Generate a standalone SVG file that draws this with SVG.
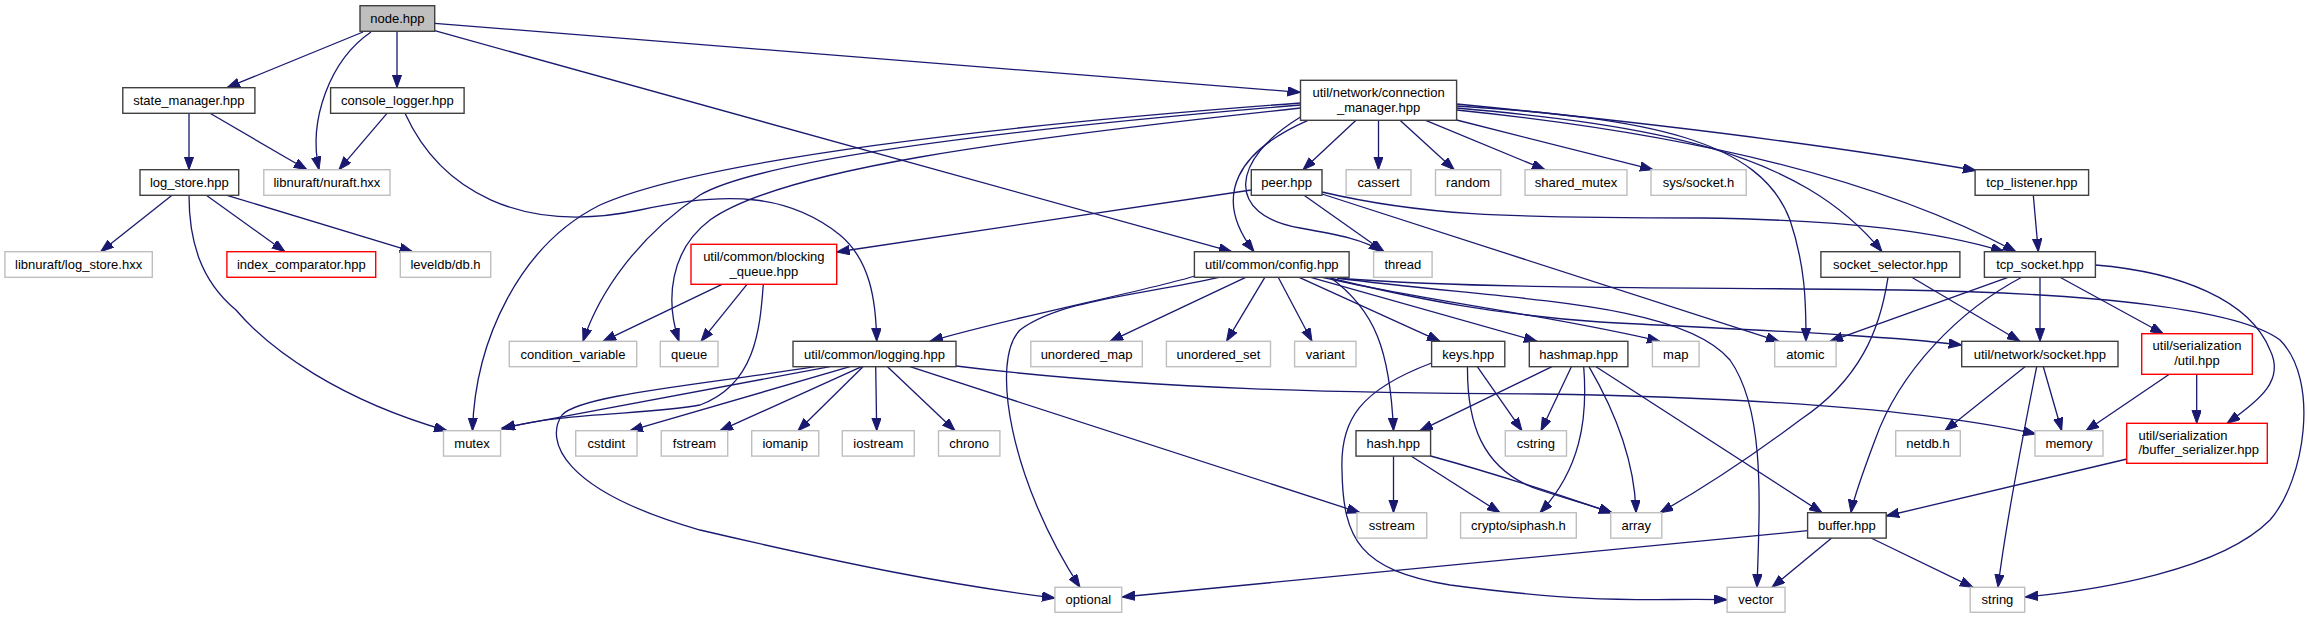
<svg xmlns="http://www.w3.org/2000/svg" width="2307" height="619" viewBox="0 0 2307 619">
<style>
.n rect{fill:#fff;stroke:#404040;stroke-width:1.4}
.g rect{fill:#fff;stroke:#bfbfbf;stroke-width:1.4}
.r rect{fill:#fff;stroke:#ff0000;stroke-width:1.4}
text{font-family:"Liberation Sans",Arial,sans-serif;font-size:13px;fill:#000;text-anchor:middle}
.e path{fill:none;stroke:#191970;stroke-width:1.3;marker-end:url(#a)}
</style>
<defs>
<marker id="a" markerWidth="14" markerHeight="10" refX="13" refY="4.7" orient="auto" markerUnits="userSpaceOnUse">
<path d="M0,0 L13,4.7 L0,9.4 z" fill="#191970" stroke="#191970" stroke-width="1"/>
</marker>
</defs>
<rect width="2307" height="619" fill="#fff"/>
<g class="e" id="edges">
<path d="M363,32 L227,87.7"/>
<path d="M371,32 C330,60 308,120 319,169.7"/>
<path d="M397,31.3 L397,87.7"/>
<path d="M434.7,23.3 L1300.5,92.3"/>
<path d="M434.7,30.7 L1231.7,251.7"/>
<path d="M189,113.3 L189,169.7"/>
<path d="M210,113.3 L307,169.7"/>
<path d="M387,113.3 L339,169.7"/>
<path d="M405,113.3 C440,190 520,235 640,210 C730,190 790,195 840,235 C870,260 876,300 876.7,341.3"/>
<path d="M172,195.3 L100.7,251.7"/>
<path d="M206.3,195.3 L284.9,251.7"/>
<path d="M227,195.3 L412.6,251.7"/>
<path d="M189,195.3 C189,240 200,280 236,310 C270,350 340,400 447,430.7"/>
<path d="M1356,120.3 L1303,169.7"/>
<path d="M1378.5,120.3 L1378.5,169.7"/>
<path d="M1400,120.3 L1454.2,169.7"/>
<path d="M1425.7,120.3 L1545,169.7"/>
<path d="M1456.6,120 L1653,169.7"/>
<path d="M1456.6,104 C1600,118 1800,140 1976,170.5"/>
<path d="M1456.6,110 C1700,135 1880,180 2016,251.7"/>
<path d="M1456.6,108 C1650,125 1800,150 1882,251.7"/>
<path d="M1456.6,106 C1650,118 1760,140 1790,220 C1805,265 1806,300 1806,341.3"/>
<path d="M1308,120.3 C1240,150 1210,195 1254,251.7"/>
<path d="M1300.5,117 C1230,160 1225,215 1300,228 C1340,235 1365,240 1382,251.7"/>
<path d="M1300.5,103 C1000,125 700,160 600,205 C520,245 475,340 472.5,430.7"/>
<path d="M1300.5,105 C1000,130 760,160 700,195 C640,235 600,290 583,341.3"/>
<path d="M1300.5,108 C1000,140 780,170 710,220 C670,250 665,300 679,341.3"/>
<path d="M1251.3,190 L836.7,252"/>
<path d="M1304,195.3 L1384,251.7"/>
<path d="M1322,194 L1779,341.3"/>
<path d="M1322,192 C1420,215 1500,218 1700,218 C1850,220 1940,232 2004,251.7"/>
<path d="M722,284.3 L603,341.3"/>
<path d="M747,284.3 L701,341.3"/>
<path d="M763.3,284.3 C760,330 755,385 700,405 C650,415 560,412 502,429"/>
<path d="M815,366.7 C700,385 580,395 562,415 C545,440 560,490 700,530 C850,565 950,585 1055,598"/>
<path d="M830,366.7 L502,428"/>
<path d="M850,366.7 L630,430.7"/>
<path d="M861.7,366.7 L720,430.7"/>
<path d="M863,366.7 L798,430.7"/>
<path d="M875.7,366.7 L876.7,430.7"/>
<path d="M887.5,366.7 L955,430.7"/>
<path d="M910,366.7 L1360,512.7"/>
<path d="M956,366 C1150,390 1350,393 1540,394 C1800,398 1950,415 2036,434"/>
<path d="M1195,276 C1150,290 1000,320 930,341.3"/>
<path d="M1219,277.3 C1140,295 1060,300 1020,330 C990,360 1010,480 1080,587.3"/>
<path d="M1245.7,277.3 L1110,341.3"/>
<path d="M1264.8,277.3 L1226.5,341.3"/>
<path d="M1278.2,277.3 L1312,341.3"/>
<path d="M1330,277.3 C1375,310 1390,350 1393.5,430.7"/>
<path d="M1299.2,277.3 L1440,341.3"/>
<path d="M1310.7,277.3 L1537,341.3"/>
<path d="M1322,277.3 C1420,300 1550,315 1660,341.3"/>
<path d="M1330,278 C1420,300 1500,315 1600,322 C1750,330 1880,335 1961.7,345"/>
<path d="M1337,278 C1500,300 1680,300 1730,360 C1765,410 1760,500 1757,587.3"/>
<path d="M1341,278.5 C1500,290 1700,287 1900,290 C2100,293 2240,310 2280,340 C2320,380 2305,480 2270,520 C2220,570 2100,590 2025,597"/>
<path d="M1477.3,366.7 L1522,430.7"/>
<path d="M1467.5,366.7 C1467,420 1480,470 1540,490 C1570,500 1590,505 1612,512.7"/>
<path d="M1431.6,363 C1360,390 1340,420 1342,470 C1343,540 1360,570 1450,585 C1600,605 1650,598 1727,599.7"/>
<path d="M1552,366.7 L1420,430.7"/>
<path d="M1571.4,366.7 L1541,430.7"/>
<path d="M1583.7,366.7 C1588,420 1580,470 1540,512.7"/>
<path d="M1589,366.7 C1620,420 1635,470 1636,512.7"/>
<path d="M1596,366.7 L1822,512.7"/>
<path d="M1393.5,456 L1393.5,512.7"/>
<path d="M1411,456 L1500,512.7"/>
<path d="M1430.6,456 C1500,475 1560,495 1612,513"/>
<path d="M1911.7,277.3 L2020,341.3"/>
<path d="M1888,277.3 C1880,330 1860,380 1800,420 C1740,465 1700,490 1660,512.7"/>
<path d="M2033.3,195.3 L2038.3,251.7"/>
<path d="M2008,277.3 L1830,341.3"/>
<path d="M2021.7,277.3 C1960,310 1900,370 1875,440 C1860,480 1853,500 1851,512.7"/>
<path d="M2040,277.3 L2040,341.3"/>
<path d="M2060,277.3 L2163.3,333.7"/>
<path d="M2095.4,265 C2180,272 2250,300 2270,350 C2285,380 2260,400 2227,423.3"/>
<path d="M2025,366.7 L1945,430.7"/>
<path d="M2043.3,366.7 L2061.7,430.7"/>
<path d="M2036.7,366.7 C2020,450 2005,530 1998,587.3"/>
<path d="M2169.3,374.3 L2086,430.7"/>
<path d="M2196.7,374.3 L2196.7,423.3"/>
<path d="M2127,459 L1886.2,516"/>
<path d="M1807.6,530.7 L1122,597"/>
<path d="M1831.7,538 L1772,587.3"/>
<path d="M1871,538 L1973,587.3"/>
</g>
<g id="node_hpp" class="n"><rect x="360" y="5.7" width="74.7" height="25.6" style="fill:#bfbfbf"/><text x="397.35" y="23">node.hpp</text></g>
<g id="state_manager" class="n"><rect x="122.8" y="87.7" width="132.1" height="25.6"/><text x="188.85" y="105">state_manager.hpp</text></g>
<g id="console_logger" class="n"><rect x="330.6" y="87.7" width="133.5" height="25.6"/><text x="397.35" y="105">console_logger.hpp</text></g>
<g id="connection_manager" class="n"><rect x="1300.5" y="80.3" width="156.1" height="40"/><text x="1378.55" y="96.9">util/network/connection</text><text x="1378.55" y="111.6">_manager.hpp</text></g>
<g id="log_store" class="n"><rect x="140" y="169.7" width="98.7" height="25.6"/><text x="189.35" y="187">log_store.hpp</text></g>
<g id="nuraft" class="g"><rect x="263.8" y="169.7" width="126.2" height="25.6"/><text x="326.9" y="187">libnuraft/nuraft.hxx</text></g>
<g id="peer" class="n"><rect x="1251.3" y="169.7" width="70.7" height="25.6"/><text x="1286.65" y="187">peer.hpp</text></g>
<g id="cassert" class="g"><rect x="1346.1" y="169.7" width="64.9" height="25.6"/><text x="1378.55" y="187">cassert</text></g>
<g id="random" class="g"><rect x="1435.5" y="169.7" width="65.3" height="25.6"/><text x="1468.15" y="187">random</text></g>
<g id="shared_mutex" class="g"><rect x="1525" y="169.7" width="102" height="25.6"/><text x="1576" y="187">shared_mutex</text></g>
<g id="sys_socket" class="g"><rect x="1651" y="169.7" width="95.2" height="25.6"/><text x="1698.6" y="187">sys/socket.h</text></g>
<g id="tcp_listener" class="n"><rect x="1975.1" y="169.7" width="113.5" height="25.6"/><text x="2031.85" y="187">tcp_listener.hpp</text></g>
<g id="log_store_hxx" class="g"><rect x="4.9" y="251.7" width="147.4" height="25.6"/><text x="78.6" y="269">libnuraft/log_store.hxx</text></g>
<g id="index_comparator" class="r"><rect x="226.9" y="251.7" width="148.8" height="25.6"/><text x="301.3" y="269">index_comparator.hpp</text></g>
<g id="leveldb" class="g"><rect x="400.3" y="251.7" width="90.4" height="25.6"/><text x="445.5" y="269">leveldb/db.h</text></g>
<g id="blocking_queue" class="r"><rect x="691" y="244.3" width="145.7" height="40"/><text x="763.85" y="261">util/common/blocking</text><text x="763.85" y="275.5">_queue.hpp</text></g>
<g id="config" class="n"><rect x="1194.4" y="251.7" width="154.7" height="25.6"/><text x="1271.75" y="269">util/common/config.hpp</text></g>
<g id="thread" class="g"><rect x="1373.6" y="251.7" width="58.5" height="25.6"/><text x="1402.85" y="269">thread</text></g>
<g id="socket_selector" class="n"><rect x="1820.9" y="251.7" width="139" height="25.6"/><text x="1890.4" y="269">socket_selector.hpp</text></g>
<g id="tcp_socket" class="n"><rect x="1984.4" y="251.7" width="111" height="25.6"/><text x="2039.9" y="269">tcp_socket.hpp</text></g>
<g id="condition_variable" class="g"><rect x="509.3" y="341.3" width="127.4" height="25.4"/><text x="573" y="358.5">condition_variable</text></g>
<g id="queue" class="g"><rect x="660.3" y="341.3" width="57.7" height="25.4"/><text x="689.15" y="358.5">queue</text></g>
<g id="logging" class="n"><rect x="793" y="341.3" width="163" height="25.4"/><text x="874.5" y="358.5">util/common/logging.hpp</text></g>
<g id="unordered_map" class="g"><rect x="1030.8" y="341.3" width="111.5" height="25.4"/><text x="1086.55" y="358.5">unordered_map</text></g>
<g id="unordered_set" class="g"><rect x="1166.4" y="341.3" width="104.1" height="25.4"/><text x="1218.45" y="358.5">unordered_set</text></g>
<g id="variant" class="g"><rect x="1294.6" y="341.3" width="61.4" height="25.4"/><text x="1325.3" y="358.5">variant</text></g>
<g id="keys" class="n"><rect x="1431.6" y="341.3" width="73.2" height="25.4"/><text x="1468.2" y="358.5">keys.hpp</text></g>
<g id="hashmap" class="n"><rect x="1529.3" y="341.3" width="98.6" height="25.4"/><text x="1578.6" y="358.5">hashmap.hpp</text></g>
<g id="map" class="g"><rect x="1652.4" y="341.3" width="46.7" height="25.4"/><text x="1675.75" y="358.5">map</text></g>
<g id="atomic" class="g"><rect x="1774.7" y="341.3" width="61.4" height="25.4"/><text x="1805.4" y="358.5">atomic</text></g>
<g id="net_socket" class="n"><rect x="1961.7" y="341.3" width="156.3" height="25.4"/><text x="2039.85" y="358.5">util/network/socket.hpp</text></g>
<g id="ser_util" class="r"><rect x="2141.7" y="333.7" width="110.6" height="40.6"/><text x="2197" y="350.2">util/serialization</text><text x="2197" y="364.5">/util.hpp</text></g>
<g id="mutex" class="g"><rect x="443.5" y="430.7" width="57.1" height="25.4"/><text x="472" y="447.8">mutex</text></g>
<g id="cstdint" class="g"><rect x="575.7" y="430.7" width="61.3" height="25.4"/><text x="606.35" y="447.8">cstdint</text></g>
<g id="fstream" class="g"><rect x="661.3" y="430.7" width="66.4" height="25.4"/><text x="694.5" y="447.8">fstream</text></g>
<g id="iomanip" class="g"><rect x="751.7" y="430.7" width="67" height="25.4"/><text x="785.2" y="447.8">iomanip</text></g>
<g id="iostream" class="g"><rect x="842.3" y="430.7" width="72" height="25.4"/><text x="878.3" y="447.8">iostream</text></g>
<g id="chrono" class="g"><rect x="938.5" y="430.7" width="61.4" height="25.4"/><text x="969.2" y="447.8">chrono</text></g>
<g id="hash" class="n"><rect x="1356" y="430.7" width="74.6" height="25.4"/><text x="1393.3" y="447.8">hash.hpp</text></g>
<g id="cstring" class="g"><rect x="1505.3" y="430.7" width="61.2" height="25.4"/><text x="1535.9" y="447.8">cstring</text></g>
<g id="netdb" class="g"><rect x="1895.7" y="430.7" width="64.6" height="25.4"/><text x="1928" y="447.8">netdb.h</text></g>
<g id="memory" class="g"><rect x="2035" y="430.7" width="68" height="25.4"/><text x="2069" y="447.8">memory</text></g>
<g id="buffer_serializer" class="r"><rect x="2126.7" y="423.3" width="140.6" height="40"/><text x="2138.5" y="439.5" style="text-anchor:start">util/serialization</text><text x="2138.5" y="453.8" style="text-anchor:start">/buffer_serializer.hpp</text></g>
<g id="sstream" class="g"><rect x="1357" y="512.7" width="69.7" height="25.4"/><text x="1391.85" y="529.8">sstream</text></g>
<g id="siphash" class="g"><rect x="1460.6" y="512.7" width="115.7" height="25.4"/><text x="1518.45" y="529.8">crypto/siphash.h</text></g>
<g id="array" class="g"><rect x="1610.7" y="512.7" width="51.1" height="25.4"/><text x="1636.25" y="529.8">array</text></g>
<g id="buffer" class="n"><rect x="1807.6" y="512.7" width="78.6" height="25.4"/><text x="1846.9" y="529.8">buffer.hpp</text></g>
<g id="optional" class="g"><rect x="1054.9" y="587.3" width="66.8" height="25"/><text x="1088.3" y="604.3">optional</text></g>
<g id="vector" class="g"><rect x="1727.1" y="587.3" width="57.9" height="25"/><text x="1756" y="604.3">vector</text></g>
<g id="string" class="g"><rect x="1970.2" y="587.3" width="54.5" height="25"/><text x="1997.45" y="604.3">string</text></g>
</svg>
